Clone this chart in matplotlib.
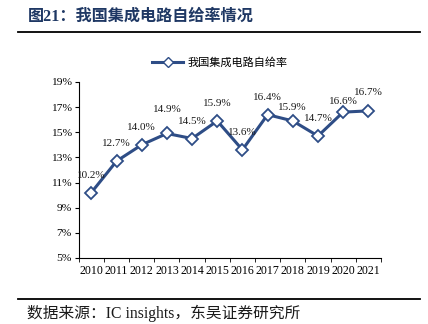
import matplotlib.pyplot as plt
import matplotlib.lines as mlines

years = ["2010", "2011", "2012", "2013", "2014", "2015", "2016",
         "2017", "2018", "2019", "2020", "2021"]
rates = [10.2, 12.7, 14.0, 14.9, 14.5, 15.9, 13.6, 16.4, 15.9, 14.7, 16.6, 16.7]
series_name = "我国集成电路自给率"
title = "图21：我国集成电路自给率情况"
source = "数据来源：IC insights，东吴证券研究所"

fam = ["Liberation Serif", "Noto Sans CJK SC"]
line_color = "#2E4D86"

# label distance above the marker (points), a few labels sit higher/lower
label_lift = {"2013": 17, "2018": 10, "2020": 8, "2021": 13}

fig = plt.figure(figsize=(4.28, 3.24), dpi=100)
ax = fig.add_axes([0.184, 0.204, 0.706, 0.543])

x = list(range(len(years)))
ax.plot(x, rates, color=line_color, lw=2.2, marker="D", ms=6,
        markerfacecolor="white", markeredgecolor=line_color, markeredgewidth=1.3,
        zorder=3)

for xi, yr, v in zip(x, years, rates):
    ax.annotate(f"{v:.1f}%", (xi, v), xytext=(0, label_lift.get(yr, 12.5)),
                textcoords="offset points", ha="center", va="center",
                fontsize=8, family=fam, color="#1a1a1a")

ax.set_xlim(-0.5, len(years) - 0.5)
ax.set_ylim(5, 19)
ax.set_yticks(range(5, 20, 2))
ax.set_yticklabels([f"{t}%" for t in range(5, 20, 2)], family=fam, fontsize=8.2)
ax.set_xticks(x)
ax.set_xticklabels(years, family=fam, fontsize=8.6)
ax.set_xticks([i - 0.5 for i in range(len(years) + 1)], minor=True)
ax.tick_params(axis="x", which="major", length=0, pad=5)
ax.tick_params(axis="x", which="minor", length=3, direction="out")
ax.tick_params(axis="y", length=3, direction="out", pad=2)
for s in ["top", "right"]:
    ax.spines[s].set_visible(False)
for s in ["left", "bottom"]:
    ax.spines[s].set_linewidth(0.8)

handle = mlines.Line2D([], [], color=line_color, lw=2.2, marker="D", ms=5,
                       markerfacecolor="white", markeredgecolor=line_color)
fig.legend([handle], [series_name], loc="center", bbox_to_anchor=(0.514, 0.806),
           frameon=False, prop={"family": fam, "size": 8}, handlelength=2.8,
           handletextpad=0.4)

fig.text(0.065, 0.948, title, ha="left", va="center", fontsize=11.6,
         fontweight="bold", color="#1F3864", family=fam)
fig.add_artist(mlines.Line2D([0.042, 0.982], [0.9, 0.9], color="black", lw=1.3))
fig.add_artist(mlines.Line2D([0.042, 0.982], [0.077, 0.077], color="black", lw=1.3))
fig.text(0.063, 0.034, source, ha="left", va="center", fontsize=11.3,
         color="#1a1a1a", family=fam)

fig.savefig("out.png", dpi=100)
